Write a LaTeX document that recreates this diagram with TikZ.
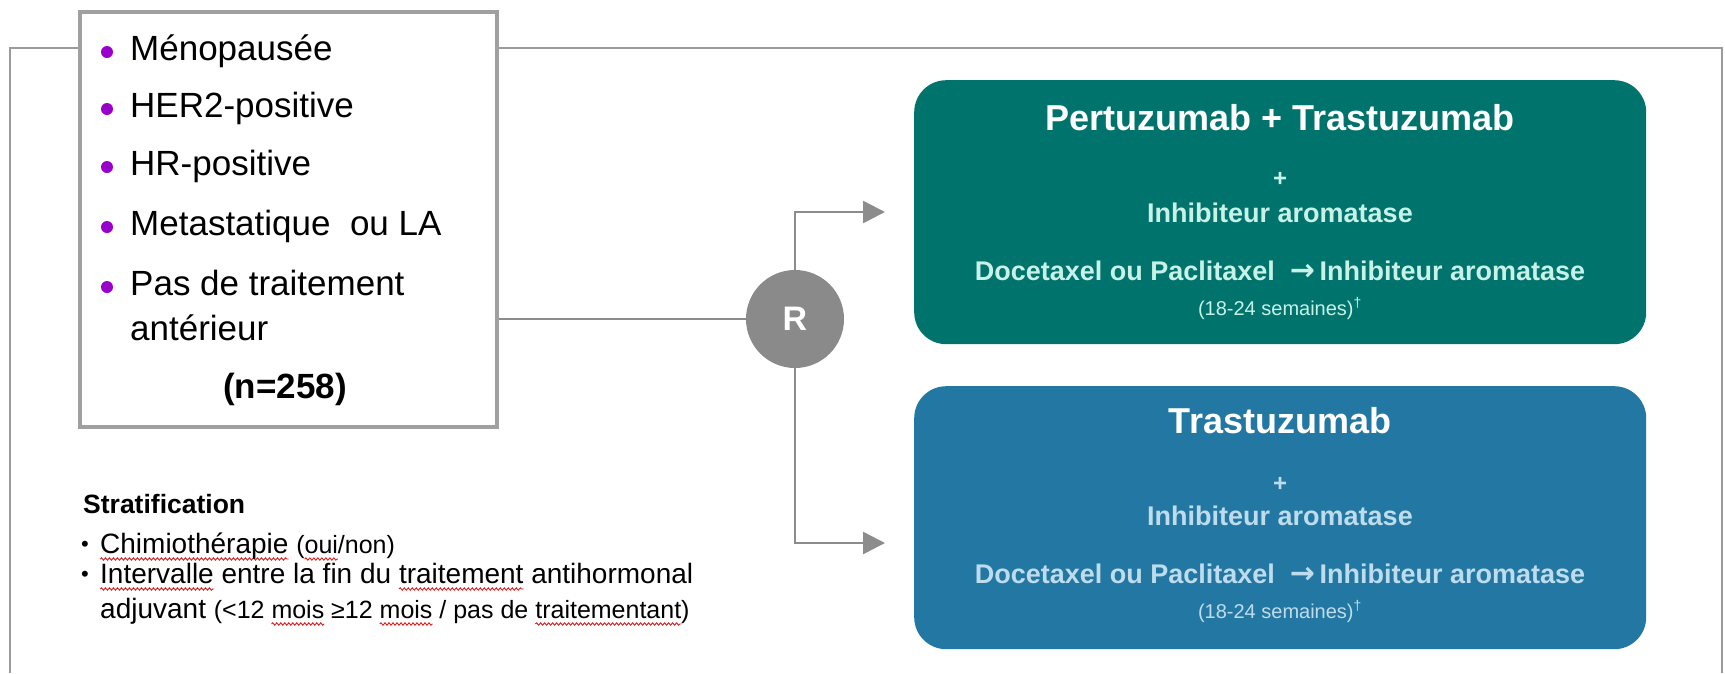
\documentclass[tikz,border=0pt]{standalone}
\usepackage{fontspec}
\setmainfont{Liberation Sans}
\newfontfamily\djv{DejaVu Sans}
\usetikzlibrary{arrows.meta,decorations.pathmorphing}
\definecolor{linegray}{RGB}{140,140,140}
\definecolor{framegray}{RGB}{155,155,155}
\definecolor{boxgray}{RGB}{160,160,160}
\definecolor{bulletpurple}{RGB}{153,0,204}
\definecolor{tealbox}{RGB}{0,115,108}
\definecolor{bluebox}{RGB}{35,120,163}
\definecolor{tealtext}{RGB}{200,242,232}
\definecolor{bluetext}{RGB}{190,220,235}
\definecolor{rgray}{RGB}{138,138,138}
\definecolor{squig}{RGB}{225,30,30}
\newcommand\fs[1]{\fontsize{#1}{#1}\selectfont}
\newcommand\sqw[1]{\setbox0\hbox{#1}\rlap{\tikz[overlay,baseline=0pt]
  \draw[squig, line width=0.9pt, decorate,
        decoration={snake, segment length=4pt, amplitude=1.2pt}]
  (0pt,-6pt) -- (\wd0,-6pt);}\box0\relax}
\newcommand\thenarrow{{\djv\bfseries\fs{30}→}}
\begin{document}
\begin{tikzpicture}[x=1pt,y=-1pt,
  txt/.style={inner sep=0pt, anchor=base west},
  ctxt/.style={inner sep=0pt, anchor=base},
  frame/.style={draw=framegray, line width=2.5pt},
  conn/.style={draw=linegray, line width=2.5pt},
  arrowhd/.style={-{Triangle[length=22pt,width=22pt]}},
  pdot/.style={circle, fill=bulletpurple, minimum size=12pt, inner sep=0pt},
  big/.style={txt, font=\fs{35}},
  armbox/.style={rounded corners=32pt, anchor=north west, minimum width=732pt, inner sep=0pt},
  armtitle/.style={ctxt, text=white, font=\bfseries\fs{36}},
  armplus/.style={ctxt, font=\bfseries\fs{24}},
  armline/.style={ctxt, font=\bfseries\fs{27}},
  armsmall/.style={ctxt, font=\fs{20}},
  strat/.style={txt, font=\fs{28}}
]
\useasboundingbox (0,0) rectangle (1725,673);

% population box
\node[draw=boxgray, line width=4pt, fill=white, minimum width=417.5pt, minimum height=415pt,
      inner sep=0pt, anchor=north west] (pop) at (77.5,9.5) {};

% outer frame
\draw[frame] (10,673) -- (10,48) -- (pop.west |- 0,48);
\draw[frame] (pop.east |- 0,48) -- (1722,48) -- (1722,673);

\node[pdot] (d1) at (107,52) {};
\node[big] (t1) at (130,60) {Ménopausée};
\node[pdot] (d2) at (107,109) {};
\node[big] (t2) at (130,117) {HER2-positive};
\node[pdot] (d3) at (107,167) {};
\node[big] (t3) at (130,175) {HR-positive};
\node[pdot] (d4) at (107,227) {};
\node[big] (t4) at (130,235) {Metastatique\ \ ou LA};
\node[pdot] (d5) at (107,287) {};
\node[big] (t5) at (130,295) {Pas de traitement};
\node[big] (t6) at (130,340) {antérieur};
\node[ctxt, font=\bfseries\fs{35}] (n) at (285,398) {(n=258)};

% randomisation
\node[circle, fill=rgray, minimum size=98pt, inner sep=0pt, text=white,
      font=\bfseries\fs{34}] (R) at (795,319) {R};
\draw[conn] (pop.east |- R) -- (R);
\coordinate (a1) at (885,212);
\coordinate (a2) at (885,543);
\draw[conn, arrowhd] (R.north) |- (a1);
\draw[conn, arrowhd] (R.south) |- (a2);

% arm 1
\node[armbox, fill=tealbox, minimum height=264pt] (arm1) at (914,80) {};
\node[armtitle] (arm1t) at (1280,130) {Pertuzumab + Trastuzumab};
\node[armplus, text=tealtext] (arm1p) at (1280,186) {+};
\node[armline, text=tealtext] (arm1i) at (1280,222) {Inhibiteur aromatase};
\node[armline, text=tealtext] (arm1d) at (1280,280) {Docetaxel ou Paclitaxel\ \ \thenarrow\,Inhibiteur aromatase};
\node[armsmall, text=tealtext] (arm1s) at (1280,315) {(18-24 semaines)\textsuperscript{†}};

% arm 2
\node[armbox, fill=bluebox, minimum height=263pt] (arm2) at (914,386) {};
\node[armtitle] (arm2t) at (1280,433) {Trastuzumab};
\node[armplus, text=bluetext] (arm2p) at (1280,491) {+};
\node[armline, text=bluetext] (arm2i) at (1280,525) {Inhibiteur aromatase};
\node[armline, text=bluetext] (arm2d) at (1280,583) {Docetaxel ou Paclitaxel\ \ \thenarrow\,Inhibiteur aromatase};
\node[armsmall, text=bluetext] (arm2s) at (1280,618) {(18-24 semaines)\textsuperscript{†}};

% stratification
\node[txt, font=\bfseries\fs{26.5}] (st) at (83,513) {Stratification};
\node[txt, font=\fs{22}] (sb1) at (81,551) {\textbullet};
\node[strat] (s1) at (100,553) {\sqw{Chimiothérapie} {\fs{25}(\sqw{oui}/non)}};
\node[txt, font=\fs{22}] (sb2) at (81,581) {\textbullet};
\node[strat] (s2) at (100,583) {\sqw{Intervalle} entre la fin du \sqw{traitement} antihormonal};
\node[strat] (s3) at (100,618) {adjuvant {\fs{25}(<12 \sqw{mois} ≥12 \sqw{mois} / pas de \sqw{traitementant})}};
\end{tikzpicture}
\end{document}
